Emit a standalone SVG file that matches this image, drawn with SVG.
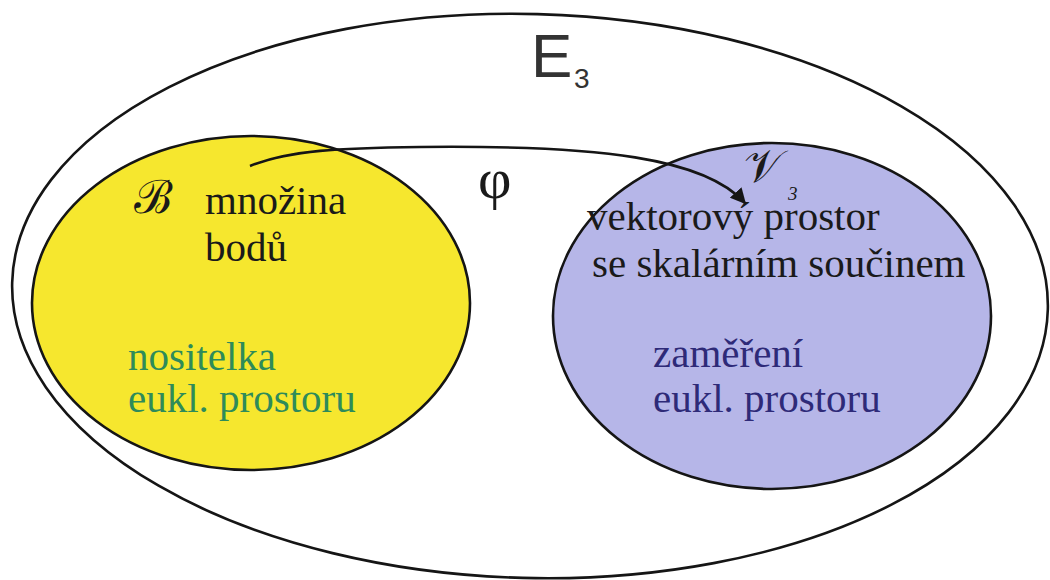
<svg xmlns="http://www.w3.org/2000/svg" width="1050" height="580" viewBox="0 0 1050 580">
<style>
.ring{fill:none;stroke:#151515;stroke-width:2.6}
.set{stroke:#151515;stroke-width:2.6}
.t{font-family:'Liberation Serif','Times New Roman',serif;font-size:41px;fill:#1a1a1a}
.g{fill:#2e8b5a}
.p{fill:#2e2a78}
.sans{font-family:'Liberation Sans',Arial,sans-serif;fill:#333}
</style>
<defs>
<marker id="ah" viewBox="0 0 10 10" refX="9" refY="5" markerWidth="6" markerHeight="6" markerUnits="strokeWidth" orient="auto">
<path d="M0,0 L10,5 L0,10 z" fill="#151515"/>
</marker>
</defs>
<rect width="1050" height="580" fill="#fff"/>
<g id="E3">
<ellipse class="ring" cx="530" cy="296" rx="518" ry="282" transform="rotate(1.5 530 296)"/>
<text class="sans" x="531" y="77" style="font-size:62px">E</text>
<text class="sans" x="574" y="88" style="font-size:28px">3</text>
</g>
<g id="B">
<ellipse class="set" cx="251" cy="303" rx="219" ry="167" fill="#f6e72e"/>
<text class="t" x="134" y="213" style="font-size:46px">ℬ</text>
<text class="t" x="205" y="214">množina</text>
<text class="t" x="205" y="261">bodů</text>
<text class="t g" x="128" y="370">nositelka</text>
<text class="t g" x="128" y="412">eukl. prostoru</text>
</g>
<g id="V3">
<ellipse class="set" cx="772" cy="316" rx="219" ry="173" fill="#b6b6e8"/>
<text class="t" x="744" y="182" style="font-size:46px">𝒱</text>
<text class="t" x="788" y="200" style="font-size:19px;font-style:italic">3</text>
<text class="t" x="587" y="230">vektorový prostor</text>
<text class="t" x="592" y="277">se skalárním součinem</text>
<text class="t p" x="653" y="367">zaměření</text>
<text class="t p" x="653" y="412">eukl. prostoru</text>
</g>
<g id="connectors">
<path d="M250,166 C290,150 340,148 420,147 C600,145 705,158 745,203" fill="none" stroke="#151515" stroke-width="2.6" marker-end="url(#ah)"/>
<text class="t" x="478" y="198" style="font-size:58px">φ</text>
</g>
</svg>
